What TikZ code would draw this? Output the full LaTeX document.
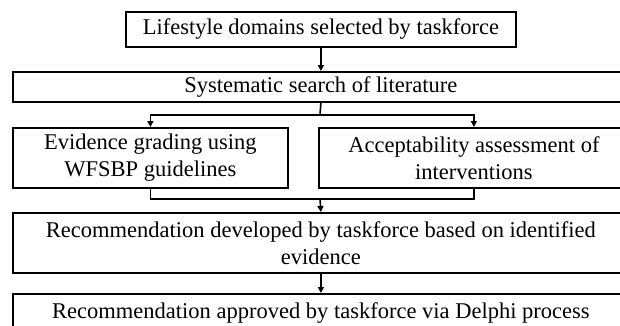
\documentclass[tikz,border=0pt]{standalone}
\usepackage{fontspec}
\setmainfont{Liberation Serif}
\usetikzlibrary{arrows.meta}
\begin{document}
\begin{tikzpicture}[x=1pt,y=-1pt,
  box/.style={draw=black, line width=1.8pt, rectangle, anchor=north west,
    inner sep=0pt, align=center, font=\fontsize{22.5}{27}\selectfont},
  link/.style={draw=black, line width=1.6pt},
  arr/.style={link, -{Triangle[length=6pt,width=6pt]}}]
\useasboundingbox (0,0) rectangle (620,325);
\clip (0,0) rectangle (620,325);
\node[box, minimum width=390pt, minimum height=35pt] (b1) at (125,11) {Lifestyle domains selected by taskforce};
\node[box, minimum width=616pt, minimum height=30pt] (b2) at (12,71) {Systematic search of literature};
\node[box, minimum width=275pt, minimum height=60pt] (b3l) at (12,127) {Evidence grading using\\WFSBP guidelines};
\node[box, minimum width=310pt, minimum height=60pt] (b3r) at (318,127) {Acceptability assessment of\\interventions};
\node[box, minimum width=616pt, minimum height=60pt] (b4) at (12,212) {Recommendation developed by taskforce based on identified\\evidence};
\node[box, minimum width=616pt, minimum height=38pt] (b5) at (12,293) {Recommendation approved by taskforce via Delphi process};
\coordinate (split) at (320,115);
\coordinate (merge) at (320,199);
\draw[arr] (b1.south) -- (b2.north);
\draw[link] (b2.south) -- (split);
\draw[arr] (split) -| (b3l.north);
\draw[arr] (split) -| (b3r.north);
\draw[link] (b3l.south) |- (merge);
\draw[link] (b3r.south) |- (merge);
\draw[arr] (merge) -- (b4.north);
\draw[arr] (b4.south) -- (b5.north);
\end{tikzpicture}
\end{document}
